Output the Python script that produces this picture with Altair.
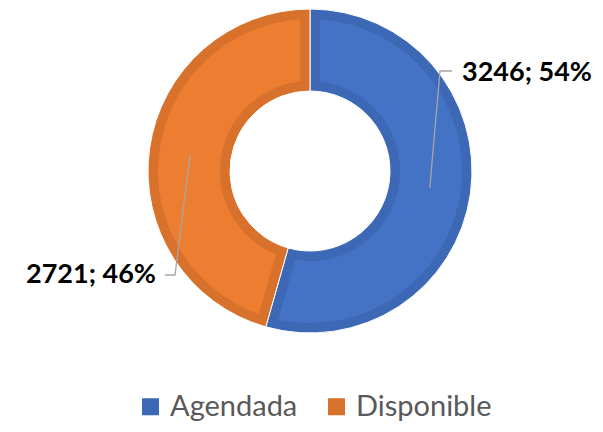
import math
import altair as alt
import pandas as pd

# ---- data ----
categories = ["Agendada", "Disponible"]
values = [3246, 2721]
fill_colors = ["#4472C4", "#ED7D31"]
band_colors = ["#3D68B6", "#D8712B"]

# ---- layout (chart pixel space) ----
W, H = 587, 416
CX, CY = 302, 163
R_OUT, R_IN, BAND = 162, 80, 10
elbow_dx = [130, -135]
elbow_dy = [-100, 104]
end_dx = [142, -145]
label_dx = [152, -154]
label_dy = [-98, 104]

total = sum(values)
labels = [f"{v}; {round(100 * v / total)}%" for v in values]
df = pd.DataFrame({"category": categories, "value": values, "label": labels,
                   "ord": list(range(len(categories)))})

# leader line points, starting at mid-angle of each slice on the ring middle
rows = []
cum = 0
r_mid = (R_OUT + R_IN) / 2
for i, (c, v) in enumerate(zip(categories, values)):
    a = 2 * math.pi * (cum + v / 2) / total
    cum += v
    sx = CX + r_mid * math.sin(a)
    sy = CY - r_mid * math.cos(a)
    rows += [
        {"category": c, "seq": 0, "x": sx, "y": sy},
        {"category": c, "seq": 1, "x": CX + elbow_dx[i], "y": CY + elbow_dy[i]},
        {"category": c, "seq": 2, "x": CX + end_dx[i], "y": CY + elbow_dy[i]},
    ]
lines_df = pd.DataFrame(rows)
text_df = pd.DataFrame({"category": categories, "label": labels,
                        "x": [CX + d for d in label_dx],
                        "y": [CY + d for d in label_dy]})

xs = alt.Scale(domain=[0, W], range=[0, W])
ys = alt.Scale(domain=[0, H], range=[0, H])

pad_r = math.sqrt((R_OUT - BAND) ** 2 + (R_IN + BAND) ** 2)
pad_angle = 2 * math.asin(BAND / pad_r)

outer = alt.Chart(df).mark_arc(outerRadius=R_OUT, innerRadius=R_IN,
                               stroke="white", strokeWidth=1).encode(
    theta=alt.Theta("value:Q", stack=True),
    order=alt.Order("ord:Q"),
    color=alt.Color("category:N", sort=categories,
                    scale=alt.Scale(domain=categories, range=band_colors),
                    legend=alt.Legend(title=None, orient="none", legendX=128, legendY=384,
                                      direction="horizontal", symbolType="square",
                                      symbolSize=290, symbolStrokeWidth=0,
                                      labelFontSize=29, labelFont="Lato",
                                      labelColor="#595959", labelOffset=5,
                                      columnPadding=24)),
    x=alt.value(CX), y=alt.value(CY),
)

inner = alt.Chart(df).mark_arc(outerRadius=R_OUT - BAND, innerRadius=R_IN + BAND,
                               padAngle=pad_angle).encode(
    theta=alt.Theta("value:Q", stack=True),
    order=alt.Order("ord:Q"),
    fill=alt.Fill("category:N", sort=categories,
                  scale=alt.Scale(domain=categories, range=fill_colors), legend=None),
    x=alt.value(CX), y=alt.value(CY),
)

leaders = alt.Chart(lines_df).mark_line(color="#A6A6A6", strokeWidth=1.3).encode(
    x=alt.X("x:Q", scale=xs, axis=None),
    y=alt.Y("y:Q", scale=ys, axis=None),
    detail="category:N",
    order="seq:Q",
)

text_base = alt.Chart(text_df).encode(
    x=alt.X("x:Q", scale=xs, axis=None),
    y=alt.Y("y:Q", scale=ys, axis=None),
    text="label:N",
)
t_right = text_base.transform_filter(alt.datum.category == categories[0]).mark_text(
    align="left", baseline="middle", font="Lato", fontWeight="bold", fontSize=27, color="#000000")
t_left = text_base.transform_filter(alt.datum.category == categories[1]).mark_text(
    align="right", baseline="middle", font="Lato", fontWeight="bold", fontSize=27, color="#000000")

chart = alt.layer(outer, inner, leaders, t_right, t_left).resolve_scale(
    color="independent", fill="independent"
).properties(
    width=W, height=H, autosize=alt.AutoSizeParams(type="none"), padding=0
).configure_view(stroke=None)

chart.save("out.html", embed_options={"renderer": "svg", "actions": False})
